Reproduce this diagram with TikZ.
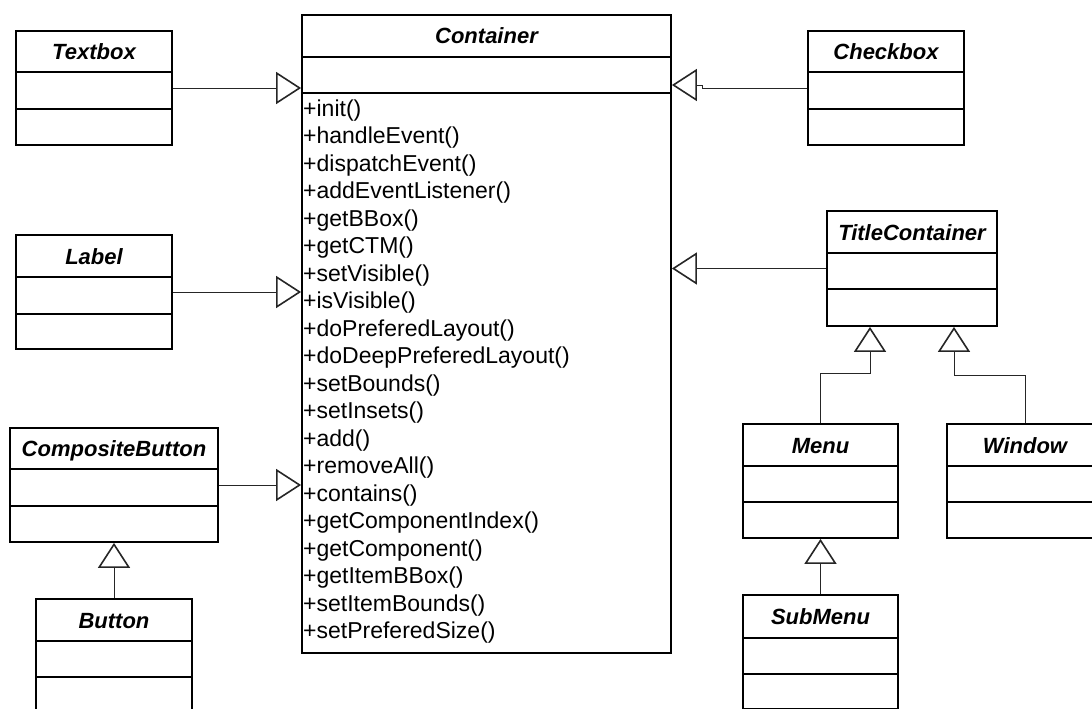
\documentclass[tikz,border=0pt]{standalone}
\usepackage{fontspec}
\setmainfont{Liberation Sans}
\usetikzlibrary{arrows.meta,fit}

\tikzset{
  cls/.style={draw=black, line width=1.8pt, inner sep=0pt},
  sep/.style={draw=black, line width=1.8pt},
  ttl/.style={anchor=base, inner sep=0pt, font=\fontsize{22}{26}\selectfont\bfseries\itshape},
  meth/.style={anchor=base west, inner sep=0pt, font=\fontsize{23}{27}\selectfont},
  gen/.style={draw=black!85, line width=1pt,
    -{Triangle[open, length=25pt, width=32pt, line width=1.6pt]}}
}

% class box: name, left, top, right, bottom, divider 1, divider 2, title
\newcommand\umlclass[8]{%
  \node[cls, fit={(#2,#3) (#4,#5)}] (#1) {};
  \draw[sep] (#2,#6) -- (#4,#6) (#2,#7) -- (#4,#7);
  \node[ttl] at ({(#2+#4)/2},{(#3+#6)/2+8}) {#8};
}

\begin{document}
\begin{tikzpicture}[x=1pt,y=-1pt]
  \clip (0,0) rectangle (1092,709);
  \fill[white] (0,0) rectangle (1092,709);

  % classes
  \umlclass{container}{302}{15}{671}{653}{57}{93}{Container}
  \umlclass{textbox}{16}{31}{172}{145}{72}{109}{Textbox}
  \umlclass{label}{16}{235}{172}{349}{277}{314}{Label}
  \umlclass{cbtn}{10}{428}{218}{542}{469}{506}{CompositeButton}
  \umlclass{button}{36}{599}{192}{713}{641}{677}{Button}
  \umlclass{checkbox}{808}{31}{964}{145}{72}{109}{Checkbox}
  \umlclass{tc}{827}{211}{997}{326}{253}{289}{TitleContainer}
  \umlclass{menu}{743}{424}{898}{538}{466}{502}{Menu}
  \umlclass{window}{947}{424}{1103}{538}{466}{502}{Window}
  \umlclass{submenu}{743}{595}{898}{709}{638}{674}{SubMenu}

  % operations of Container
  \foreach \m [count=\i from 0] in {init,handleEvent,dispatchEvent,addEventListener,
      getBBox,getCTM,setVisible,isVisible,doPreferedLayout,doDeepPreferedLayout,
      setBounds,setInsets,add,removeAll,contains,getComponentIndex,getComponent,
      getItemBBox,setItemBounds,setPreferedSize}
    \node[meth] (op\i) at (303,{116.2+27.5*\i}) {+\m()};

  % generalisations
  \coordinate (jog) at (702,85);
  \draw[gen] (textbox.east) -- (textbox.east -| container.west);
  \draw[gen] (label.east) -- (label.east -| container.west);
  \draw[gen] (cbtn.east) -- (cbtn.east -| container.west);
  \draw[gen] (checkbox.west) -- (jog |- checkbox.west) -- (jog) -- (jog -| container.east);
  \draw[gen] (tc.west) -- (tc.west -| container.east);
  \draw[gen] (button.north) -- (cbtn.south);
  \draw[gen] (submenu.north) -- (menu.south);
  \draw[gen] (menu.north) -- ++(0,-50) -| ([xshift=-42pt]tc.south);
  \draw[gen] (window.north) -- ++(0,-48) -| ([xshift=42pt]tc.south);
\end{tikzpicture}
\end{document}
